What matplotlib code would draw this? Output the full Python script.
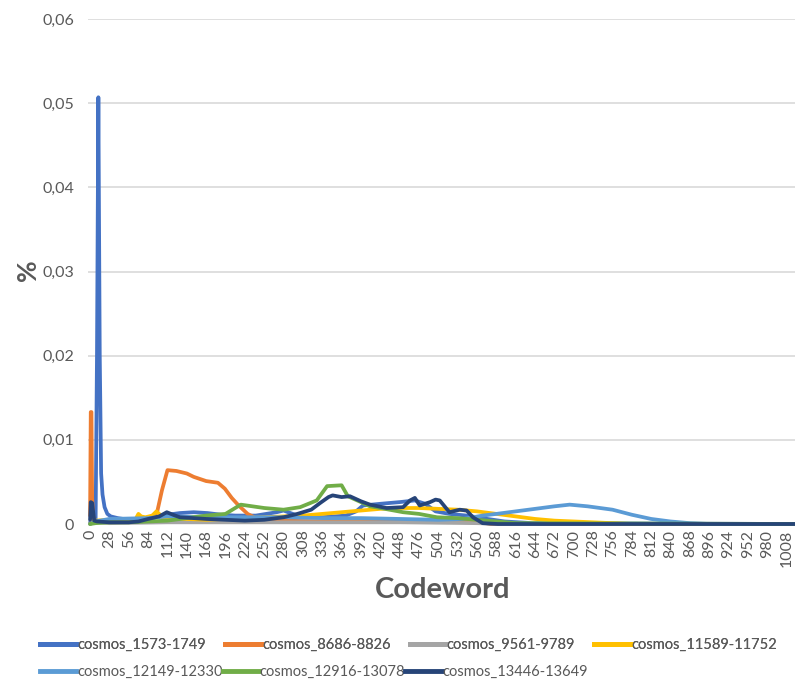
import matplotlib
matplotlib.use("Agg")
import matplotlib.pyplot as plt
from matplotlib.lines import Line2D
from matplotlib.ticker import FuncFormatter

plt.rcParams['font.family'] = ['Lato', 'DejaVu Sans']

series_names = ["cosmos_1573-1749", "cosmos_8686-8826", "cosmos_9561-9789", "cosmos_11589-11752",
                "cosmos_12149-12330", "cosmos_12916-13078", "cosmos_13446-13649"]
colors = ["#4472C4", "#ED7D31", "#A5A5A5", "#FFC000", "#5B9BD5", "#70AD47", "#264478"]

blue_x = [0, 4, 8, 10, 12, 14, 16, 18, 21, 25, 30, 40, 56, 84, 100, 112, 130, 150, 170, 190, 210, 240,
          270, 280, 300, 336, 370, 385, 395, 420, 448, 470, 485, 500, 520, 545, 575, 600, 640, 1023]
blue_y = [0.0002, 0.0002, 0.0003, 0.02, 0.0507, 0.02, 0.006, 0.0035, 0.002, 0.0012, 0.0009, 0.0007,
          0.0005, 0.0006, 0.0009, 0.0011, 0.0013, 0.0014, 0.0013, 0.0011, 0.0010, 0.0010,
          0.0014, 0.0016, 0.0010, 0.0008, 0.0010, 0.0015, 0.0022, 0.0024, 0.0026, 0.0028, 0.0024,
          0.0015, 0.0012, 0.0010, 0.0006, 0.0003, 0.0001, 0.0]

orange_x = [0, 1, 2, 3, 5, 8, 28, 56, 84, 97, 104, 112, 125, 140, 150, 168, 185, 195, 205, 215, 228,
            240, 280, 336, 448, 560, 580, 1023]
orange_y = [0.001, 0.0133, 0.0133, 0.003, 0.0005, 0.0003, 0.0004, 0.0005, 0.0006, 0.0014, 0.004,
            0.0064, 0.0063, 0.0060, 0.0056, 0.0051, 0.0049, 0.0042, 0.0031, 0.0022, 0.0012,
            0.0007, 0.0004, 0.0003, 0.0003, 0.0003, 0.0, 0.0]

gray_x = [0, 8, 28, 112, 224, 336, 448, 560, 600, 1023]
gray_y = [0.0001, 0.0002, 0.0001, 0.0002, 0.0002, 0.0002, 0.0002, 0.0001, 0.0, 0.0]

yellow_x = [0, 8, 28, 56, 66, 70, 74, 80, 90, 96, 100, 104, 112, 140, 168, 196, 224, 252, 280, 308,
            336, 364, 392, 420, 448, 476, 504, 532, 560, 588, 616, 644, 672, 700, 728, 756, 784, 1023]
yellow_y = [0.0, 0.0004, 0.0005, 0.0006, 0.0006, 0.0012, 0.0009, 0.0008, 0.0010, 0.0015, 0.0012,
            0.0007, 0.0006, 0.0006, 0.0005, 0.0006, 0.0007, 0.0008, 0.0009, 0.0010, 0.0012, 0.0014,
            0.0016, 0.0018, 0.0019, 0.0019, 0.0018, 0.0017, 0.0015, 0.0012, 0.0009, 0.0006, 0.0004,
            0.0003, 0.0002, 0.0001, 0.0, 0.0]

lightblue_x = [0, 8, 28, 84, 112, 168, 224, 280, 336, 392, 448, 504, 540, 568, 588, 616, 644, 672,
               694, 720, 756, 784, 812, 840, 868, 896, 1023]
lightblue_y = [0.0, 0.0003, 0.0006, 0.0007, 0.0009, 0.0008, 0.0008, 0.0008, 0.0007, 0.0007, 0.0006,
               0.0005, 0.0006, 0.0010, 0.0012, 0.0015, 0.0018, 0.0021, 0.0023, 0.0021, 0.0017,
               0.0011, 0.0006, 0.0003, 0.0001, 0.0, 0.0]

green_x = [0, 8, 28, 56, 84, 112, 140, 168, 196, 210, 218, 252, 280, 304, 328, 343, 364, 373, 392,
           405, 420, 453, 476, 502, 532, 560, 588, 616, 1023]
green_y = [0.0, 0.0001, 0.0002, 0.0002, 0.0003, 0.0004, 0.0007, 0.0010, 0.0012, 0.0019, 0.0023,
           0.0019, 0.0017, 0.0020, 0.0028, 0.0045, 0.0046, 0.0033, 0.0026, 0.0021, 0.0019, 0.0014,
           0.0012, 0.0008, 0.0007, 0.0005, 0.0003, 0.0001, 0.0]

navy_x = [0, 1, 3, 6, 10, 28, 56, 70, 84, 100, 111, 120, 130, 150, 168, 196, 224, 252, 280, 300, 320,
          333, 345, 351, 364, 376, 392, 405, 429, 453, 463, 470, 477, 492, 500, 506, 512, 520, 535,
          545, 554, 568, 590, 1023]
navy_y = [0.0005, 0.0026, 0.0025, 0.0004, 0.0003, 0.0002, 0.0002, 0.0003, 0.0006, 0.0009, 0.0014,
          0.0011, 0.0008, 0.0007, 0.0006, 0.0005, 0.0004, 0.0005, 0.0008, 0.0012, 0.0017, 0.0025,
          0.0032, 0.0034, 0.0032, 0.0033, 0.0027, 0.0023, 0.0019, 0.0020, 0.0028, 0.0031, 0.0022,
          0.0026, 0.0029, 0.0028, 0.0022, 0.0014, 0.0017, 0.0016, 0.0008, 0.0001, 0.0, 0.0]

all_x = [blue_x, orange_x, gray_x, yellow_x, lightblue_x, green_x, navy_x]
all_y = [blue_y, orange_y, gray_y, yellow_y, lightblue_y, green_y, navy_y]

x_ticks = list(range(0, 1009, 28))
y_ticks = [0, 0.01, 0.02, 0.03, 0.04, 0.05, 0.06]

W, H = 795, 684
fig = plt.figure(figsize=(W / 100, H / 100), dpi=100)
ax = fig.add_axes([88 / W, 1 - 524 / H, (797 - 88) / W, (524 - 19) / H])

lw = 2.7
for xs, ys, c in zip(all_x, all_y, colors):
    ax.plot(xs, ys, color=c, lw=lw, solid_joinstyle='round', solid_capstyle='round', clip_on=False)

ax.set_xlim(-3, 1023)
ax.set_ylim(0, 0.06)
ax.set_yticks(y_ticks)
ax.yaxis.set_major_formatter(FuncFormatter(lambda v, p: "0" if v == 0 else f"{v:.2f}".replace(".", ",")))
ax.set_xticks(x_ticks)
ax.set_xticklabels([str(t) for t in x_ticks], rotation=90)
ax.tick_params(axis='both', length=0, colors='#595959', labelsize=11.5)
ax.tick_params(axis='y', pad=10)
ax.tick_params(axis='x', pad=4)
ax.grid(axis='y', color='#D9D9D9', lw=1.2)
ax.set_axisbelow(True)
for s in ax.spines.values():
    s.set_visible(False)

fig.text(28 / W, 1 - 270 / H, "%", rotation=90, ha='center', va='center', fontsize=19,
         fontweight='bold', color='#595959')
fig.text(443 / W, 1 - 590 / H, "Codeword", ha='center', va='center', fontsize=21,
         fontweight='bold', color='#595959')

handles = [Line2D([0], [0], color=c, lw=3.5) for c in colors]
common = dict(frameon=False, fontsize=10.5, handlelength=2.5, handletextpad=0.05,
              labelcolor='#595959', borderaxespad=0, borderpad=0)
leg1 = fig.legend(handles[:4], series_names[:4], loc='center left', bbox_to_anchor=(40 / W, 1 - 645 / H),
                  ncol=4, columnspacing=1.3, **common)
leg2 = fig.legend(handles[4:], series_names[4:], loc='center left', bbox_to_anchor=(40 / W, 1 - 672 / H),
                  ncol=3, columnspacing=0.0, **common)
fig.add_artist(leg1)

fig.savefig("out.png", dpi=100, facecolor='white')
